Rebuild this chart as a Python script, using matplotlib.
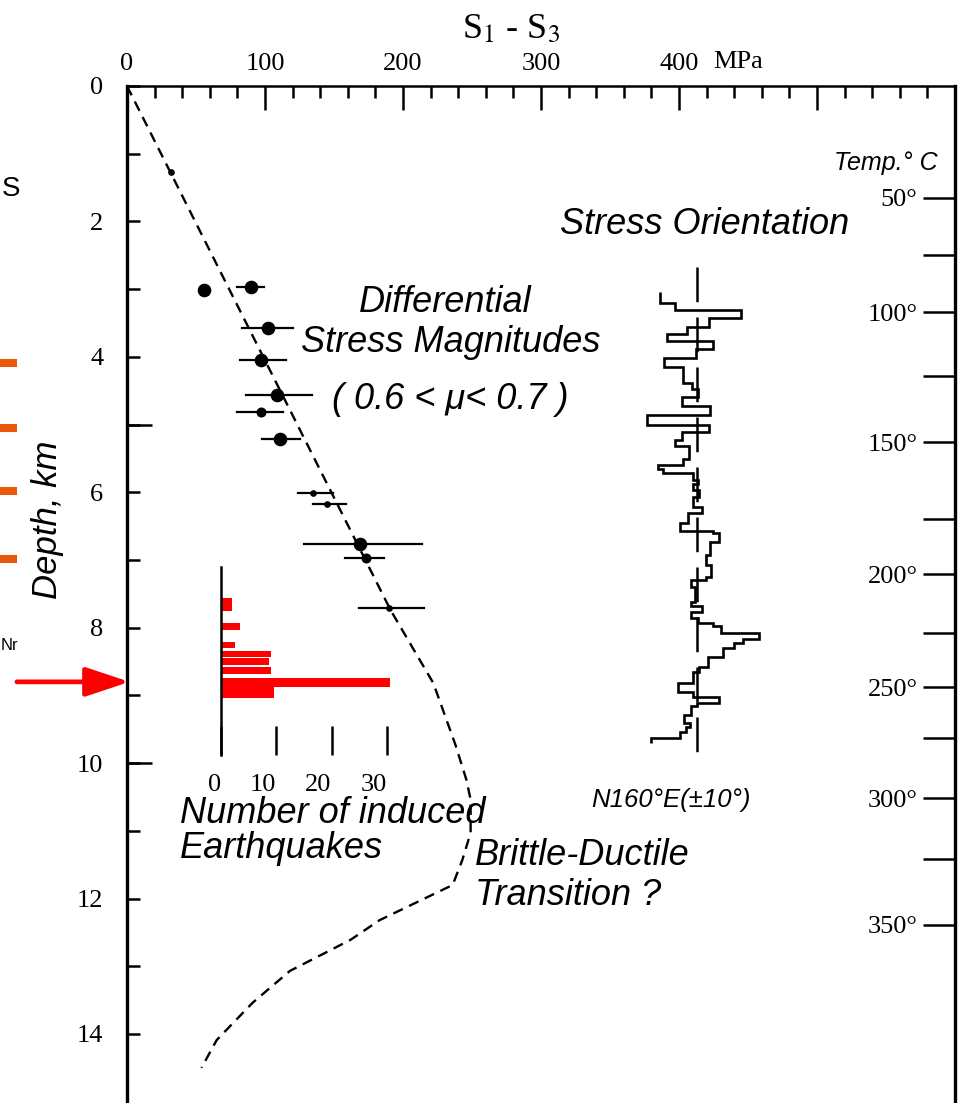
import matplotlib
matplotlib.use('Agg')
import matplotlib.pyplot as plt
import matplotlib.transforms as mtrans

plt.rcParams['font.family'] = 'serif'
plt.rcParams['font.serif'] = ['Liberation Serif', 'DejaVu Serif']
plt.rcParams['mathtext.fontset'] = 'stix'
plt.rcParams['lines.scale_dashes'] = False

# differential stress estimates, S1 - S3 (MPa) vs depth (km)
stress_depth = [1.27, 3.01, 2.97, 3.57, 4.05, 4.56, 4.81, 5.21, 6.01, 6.17, 6.77, 6.97, 7.71]
stress_mpa = [32, 56, 90, 102, 97, 109, 97, 111, 135, 145, 169, 173, 190]
stress_lo = [32, 56, 80, 83, 82, 86, 80, 98, 124, 135, 128, 158, 168]
stress_hi = [32, 56, 99, 120, 115, 134, 113, 125, 149, 159, 214, 186, 215]
stress_kind = ['s', 'l', 'l', 'l', 'l', 'l', 'm', 'l', 's', 's', 'l', 'm', 's']

# frictional strength profile (dashed)
prof_mpa = [0, 191, 222, 238, 246, 249, 249, 243, 236, 183, 162, 118, 91, 65, 54]
prof_depth = [0, 7.74, 8.82, 9.73, 10.25, 10.54, 11.03, 11.43, 11.80, 12.32, 12.61, 13.07, 13.54, 14.09, 14.50]

# induced earthquakes per depth bin
eq_top = [7.56, 7.93, 8.21, 8.34, 8.45, 8.58, 8.74, 8.87]
eq_bot = [7.75, 8.03, 8.30, 8.43, 8.55, 8.68, 8.87, 9.04]
eq_count = [2, 3.4, 2.5, 9, 8.7, 9, 30.5, 9.6]
eq_ticks = [0, 10, 20, 30]

# stress orientation log (azimuth, deg) on depth intervals
az_edges = [3.04, 3.21, 3.31, 3.43, 3.56, 3.66, 3.77, 3.88, 4.02, 4.15,
            4.39, 4.48, 4.59, 4.73, 4.86, 5.01, 5.11, 5.23, 5.32, 5.51,
            5.60, 5.66, 5.72, 5.82, 5.88, 5.97, 6.07, 6.22, 6.31, 6.45,
            6.57, 6.60, 6.74, 6.93, 7.07, 7.25, 7.30, 7.40, 7.62, 7.68,
            7.77, 7.86, 7.93, 7.98, 8.08, 8.17, 8.23, 8.30, 8.43, 8.58,
            8.66, 8.82, 8.95, 9.02, 9.11, 9.16, 9.29, 9.41, 9.47, 9.54,
            9.63, 9.70]
az_deg = [147.7, 152.7, 174.7, 164.0, 156.7, 150.0, 165.3, 159.7, 149.0, 155.3,
          158.3, 160.3, 155.0, 164.3, 143.3, 164.0, 155.0, 152.7, 157.3, 155.3,
          147.0, 148.7, 158.7, 160.3, 158.7, 160.7, 158.7, 161.7, 157.0, 154.3,
          165.3, 167.3, 164.3, 163.0, 164.7, 163.0, 158.0, 159.3, 158.0, 161.7,
          158.0, 160.3, 165.3, 168.0, 180.7, 175.3, 172.3, 168.7, 163.7, 160.7,
          158.7, 153.7, 158.7, 167.3, 160.0, 158.0, 155.7, 157.7, 156.3, 154.3,
          144.7]
az_mean = 160
az_line = [2.67, 9.84]

# temperature scale
temp_c = [50, 75, 100, 125, 150, 175, 200, 225, 250, 275, 300, 325, 350]
temp_depth = [1.65, 2.50, 3.34, 4.28, 5.26, 6.39, 7.21, 8.08, 8.88, 9.63, 10.52, 11.42, 12.39]

# pieces of the neighbouring panel
stub_depth = [4.09, 5.05, 5.98, 6.99]
arrow_depth = 8.80

W, H = 962, 1103
def fx(px): return px / W
def fy(px): return 1 - px / H

sans = dict(family='Liberation Sans', style='italic')

fig = plt.figure(figsize=(W / 100, H / 100), dpi=100)
ax = fig.add_axes([fx(127), 0, fx(955) - fx(127), fy(86)])
tax = ax.twinx()

ax.set_xlim(0, 600)
ax.set_ylim(15.02, 0)
tax.set_ylim(15.02, 0)

ax.spines['top'].set_linewidth(1.8)
ax.spines['left'].set_linewidth(2.4)
ax.spines['right'].set_linewidth(2.4)
ax.spines['bottom'].set_visible(False)
for s in tax.spines.values():
	s.set_visible(False)

ax.xaxis.tick_top()
ax.set_xticks(range(0, 601, 100))
ax.set_xticklabels(['0', '100', '200', '300', '400', '', ''])
ax.set_xticks(range(0, 601, 20), minor=True)
ax.tick_params(axis='x', which='major', direction='in', length=17, width=1.8, pad=8, labelsize=19)
ax.tick_params(axis='x', which='minor', direction='in', length=8.5, width=1.8)

ax.set_yticks(range(0, 15))
ax.set_yticklabels([str(d) if d % 2 == 0 else '' for d in range(0, 15)])
ax.set_yticks([5, 10], minor=True)
ax.yaxis.remove_overlapping_locs = False
ax.tick_params(axis='y', which='major', direction='in', length=9.5, width=1.8, pad=17, labelsize=19)
ax.tick_params(axis='y', which='minor', direction='in', length=18, width=1.8)

# temperature ticks on the right spine, labels inside
tax.set_yticks(temp_depth)
tax.set_yticklabels(['%d°' % t if t % 50 == 0 else '' for t in temp_c])
tax.tick_params(axis='y', direction='in', length=23, width=1.8, pad=-27, labelsize=19)
for lab in tax.get_yticklabels():
	lab.set_horizontalalignment('right')

# stress profile and measurements
ax.plot(prof_mpa, prof_depth, color='k', lw=1.7, dashes=(7.5, 5))
ms = {'s': 3.8, 'm': 6.2, 'l': 8.8}
for x, d, lo, hi, k in zip(stress_mpa, stress_depth, stress_lo, stress_hi, stress_kind):
	if hi > lo:
		ax.plot([lo, hi], [d, d], color='k', lw=1.6)
	ax.plot(x, d, 'o', color='k', ms=ms[k])

# orientation log
oax = fig.add_axes(ax.get_position(), sharey=ax)
oax.axis('off')
oax.set_xlim(az_mean - (697 - 127) / 3, az_mean + (955 - 697) / 3)
oax.stairs(az_deg, az_edges, orientation='horizontal', baseline=None, color='k', lw=1.9)
oax.vlines(az_mean, az_line[0], az_line[1], colors='k', lw=1.8, linestyles=(0, (25, 11)))
oax.set_ylim(15.02, 0)

# earthquake histogram
hx = fig.add_axes([fx(221), fy(755), fx(401) - fx(221), (755 - 567) / H])
hx.patch.set_visible(False)
hx.barh(eq_top, eq_count, height=[b - t for t, b in zip(eq_top, eq_bot)], align='edge', color='red')
hx.set_xlim(0, 180 / 5.53)
hx.set_ylim(9.88, 7.10)
for s in ['top', 'right', 'bottom']:
	hx.spines[s].set_visible(False)
hx.spines['left'].set_linewidth(1.8)
hx.set_yticks([])
hx.set_xticks(eq_ticks)
hx.tick_params(axis='x', direction='in', length=21, width=1.8, pad=14, labelsize=19)
for lab in hx.get_xticklabels():
	lab.set_horizontalalignment('right')

# neighbouring panel remnants
tr = mtrans.blended_transform_factory(ax.transAxes, ax.transData)
ax.hlines(stub_depth, -0.153, -0.133, transform=tr, colors='#e8590c', lw=5.8, clip_on=False)
ax.annotate('', xy=(0.003, arrow_depth), xytext=(-0.133, arrow_depth), xycoords=tr, textcoords=tr,
			arrowprops=dict(arrowstyle='-|>,head_length=2.7,head_width=0.9', color='red', lw=3.4,
							shrinkA=0, shrinkB=0, mutation_scale=10), annotation_clip=False)
fig.text(fx(2), fy(189), 'S', ha='left', va='center', fontsize=20, family='Liberation Sans')
fig.text(fx(1), fy(645), 'Nr', ha='left', va='center', fontsize=12, family='Liberation Sans')

# labels
fig.text(fx(511), fy(30), r'S$_1$ - S$_3$', ha='center', va='center', fontsize=26)
fig.text(fx(738), fy(62), 'MPa', ha='center', va='center', fontsize=19)
fig.text(fx(48), fy(520), 'Depth, km', rotation=90, ha='center', va='center', fontsize=25, **sans)
fig.text(fx(445), fy(303), 'Differential', ha='center', va='center', fontsize=26, **sans)
fig.text(fx(451), fy(342), 'Stress Magnitudes', ha='center', va='center', fontsize=26, **sans)
fig.text(fx(450), fy(400), '( 0.6 < μ< 0.7 )', ha='center', va='center', fontsize=26, **sans)
fig.text(fx(705), fy(225), 'Stress Orientation', ha='center', va='center', fontsize=26, **sans)
fig.text(fx(886), fy(163), 'Temp.° C', ha='center', va='center', fontsize=18, **sans)
fig.text(fx(671), fy(800), 'N160°E(±10°)', ha='center', va='center', fontsize=18.5, **sans)
fig.text(fx(180), fy(796), 'Number of induced\nEarthquakes', ha='left', va='top', fontsize=26,
		 linespacing=1.0, **sans)
fig.text(fx(475), fy(838), 'Brittle-Ductile\nTransition ?', ha='left', va='top', fontsize=26, **sans)

fig.savefig('out.png', dpi=100)
